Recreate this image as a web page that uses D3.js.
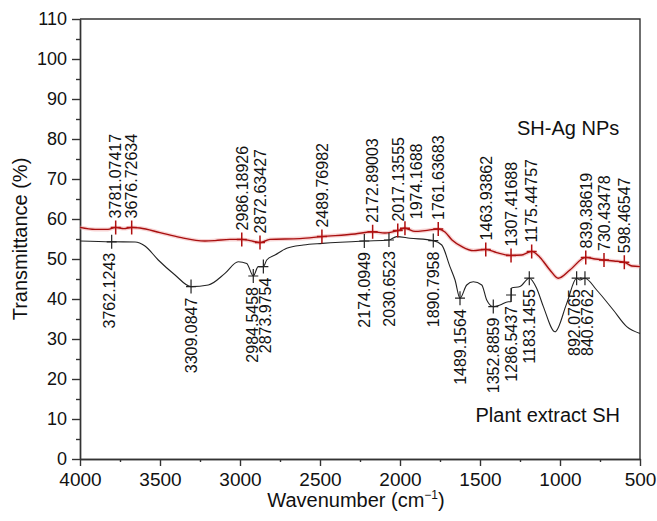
<!DOCTYPE html>
<meta charset="utf-8">
<title>FTIR spectra - SH-Ag NPs and plant extract SH</title>
<script src="https://d3js.org/d3.v7.min.js"></script>
<style>
  body { margin: 0; background: #fff; }
  svg text { font-family: "Liberation Sans", Arial, Helvetica, sans-serif; fill: #111; }
  .axis path, .axis line { stroke: #333; stroke-width: 1.4px; }
  .axis text { font-size: 18px; }
  .axis.xlab text { font-size: 19px; }
  .peak { font-size: 16px; }
  .title { font-size: 20px; }
  .series { font-size: 20px; }
</style>
<div id="chart"></div>
<script>
// red trace: SH-Ag NPs (wavenumber, transmittance %)
var agWave  = [4000, 3906, 3825, 3777, 3725, 3677, 3625, 3500, 3375, 3219, 3156, 3063, 2989, 2938, 2875, 2813, 2625, 2488, 2281, 2171, 2094, 2014, 1969, 1906, 1844, 1761, 1719, 1675, 1613, 1542, 1464, 1396, 1306, 1239, 1177, 1125, 1063, 1011, 938, 839, 781, 725, 663, 598, 550, 500];
var agTrans = [57.9, 57.4, 57.4, 57.9, 57.6, 57.9, 57.75, 56.6, 55.4, 54.5, 54.6, 54.9, 54.9, 54.6, 54.1, 54.9, 55.1, 55.6, 56.25, 56.8, 56.5, 57.1, 57.7, 56.9, 57.1, 57.5, 56.75, 54.75, 53.1, 52.1, 52.4, 51.6, 50.9, 51.0, 51.9, 50.4, 47.25, 45.2, 47.25, 50.4, 50.0, 49.75, 49.5, 49.2, 48.25, 48.1];

// black trace: plant extract SH
var shWave  = [4000, 3802, 3656, 3594, 3511, 3406, 3306, 3198, 3094, 3011, 2958, 2917, 2886, 2854, 2833, 2781, 2708, 2604, 2486, 2223, 2069, 2021, 1938, 1792, 1739, 1688, 1656, 1625, 1583, 1542, 1489, 1458, 1417, 1375, 1323, 1306, 1303, 1250, 1192, 1146, 1104, 1031, 958, 896, 875, 844, 771, 667, 583, 500];
var shTrans = [54.5, 54.3, 54.25, 53.25, 49.75, 46.0, 43.1, 43.5, 46.4, 49.3, 48.9, 45.75, 48.1, 48.1, 49.75, 51.0, 52.7, 53.5, 53.9, 54.5, 54.75, 55.6, 55.2, 54.6, 53.5, 48.1, 44.75, 40.2, 43.5, 44.3, 43.5, 39.75, 38.1, 38.5, 39.3, 39.3, 42.75, 43.1, 45.2, 42.7, 38.1, 31.8, 38.9, 45.2, 44.75, 45.2, 42.25, 37.25, 33.1, 31.4];

// peak picks on the red trace
var agPeakWave  = [3777, 3677, 2989, 2875, 2488, 2171, 2014, 1969, 1761, 1464, 1306, 1177, 839, 725, 598];
var agPeakTrans = [57.9, 57.9, 54.9, 54.1, 55.6, 56.8, 57.1, 57.7, 57.5, 52.4, 50.9, 51.9, 50.4, 49.75, 49.2];
var agPeakText  = ["3781.07417", "3676.72634", "2986.18926", "2872.63427", "2489.76982", "2172.89003", "2017.13555", "1974.1688", "1761.63683", "1463.93862", "1307.41688", "1175.44757", "839.38619", "730.43478", "598.46547"];

// peak picks on the black trace
var shPeakWave  = [3802, 3306, 2917, 2854, 2223, 2069, 1792, 1625, 1417, 1306, 1192, 896, 844];
var shPeakTrans = [54.3, 43.1, 45.75, 48.1, 54.5, 54.75, 54.6, 40.2, 38.1, 41.0, 45.2, 45.2, 45.2];
var shPeakText  = ["3762.1243", "3309.0847", "2984.5458", "2873.9754", "2174.0949", "2030.6523", "1890.7958", "1489.1564", "1352.8859", "1286.5437", "1183.1455", "892.0765", "840.6762"];

var xTicks = [4000, 3500, 3000, 2500, 2000, 1500, 1000, 500];
var xMinor = [3750, 3250, 2750, 2250, 1750, 1250, 750];
var yTicks = [0, 10, 20, 30, 40, 50, 60, 70, 80, 90, 100, 110];
var yMinor = [5, 15, 25, 35, 45, 55, 65, 75, 85, 95, 105];

var W = 657, H = 521;
var margin = {top: 19, right: 17, bottom: 62, left: 80},
    width = W - margin.left - margin.right,
    height = H - margin.top - margin.bottom;

var svg = d3.select("#chart").append("svg")
    .attr("width", W)
    .attr("height", H)
  .append("g")
    .attr("transform", "translate(" + margin.left + "," + margin.top + ")");

var x = d3.scaleLinear().domain([4000, 500]).range([0, width]);
var y = d3.scaleLinear().domain([0, 110]).range([height, 0]);

// frame (top + right)
svg.append("path")
    .attr("d", "M0,0H" + width + "V" + height)
    .attr("fill", "none")
    .attr("stroke", "#333")
    .attr("stroke-width", 1.4);

// minor ticks first, then the labelled axes
svg.append("g").attr("class", "axis")
    .attr("transform", "translate(0," + height + ")")
    .call(d3.axisBottom(x).tickValues(xMinor).tickSize(3).tickSizeOuter(0).tickFormat(""));
svg.append("g").attr("class", "axis")
    .call(d3.axisLeft(y).tickValues(yMinor).tickSize(4).tickSizeOuter(0).tickFormat(""));

svg.append("g").attr("class", "axis xlab")
    .attr("transform", "translate(0," + height + ")")
    .call(d3.axisBottom(x).tickValues(xTicks).tickSize(7).tickSizeOuter(0).tickPadding(7).tickFormat(d3.format("d")));
svg.append("g").attr("class", "axis")
    .call(d3.axisLeft(y).tickValues(yTicks).tickSize(8).tickSizeOuter(0).tickPadding(5).tickFormat(d3.format("d")));

var line = d3.line()
    .x(function(d) { return x(d[0]); })
    .y(function(d) { return y(d[1]); })
    .curve(d3.curveMonotoneX);

var agData = agWave.map(function(w, i) { return [w, agTrans[i]]; });
var shData = shWave.map(function(w, i) { return [w, shTrans[i]]; });

svg.append("path").datum(shData)
    .attr("d", line)
    .attr("fill", "none")
    .attr("stroke", "#222")
    .attr("stroke-width", 1.1);

// red trace has a soft pink halo in the scan
svg.append("path").datum(agData)
    .attr("d", line)
    .attr("fill", "none")
    .attr("stroke", "#f2a8a8")
    .attr("stroke-opacity", 0.5)
    .attr("stroke-width", 4);
svg.append("path").datum(agData)
    .attr("d", line)
    .attr("fill", "none")
    .attr("stroke", "#a80f0f")
    .attr("stroke-width", 1.4);

// small sideways shifts so neighbouring labels don't collide
var shift = {"1974.1688": 11, "2984.5458": -1, "2873.9754": 2, "892.0765": -2, "840.6762": 2, "3762.1243": -2};

function peaks(wave, trans, text, color, above) {
  var g = svg.append("g");
  wave.forEach(function(w, i) {
    var px = x(w), py = y(trans[i]);
    g.append("path")
        .attr("d", "M" + (px - 5) + "," + py + "H" + (px + 5) + "M" + px + "," + (py - 7) + "V" + (py + 7))
        .attr("stroke", color)
        .attr("stroke-width", above ? 1.5 : 1.2)
        .attr("fill", "none");
    var lx = px + (shift[text[i]] || 0);
    var ly = above ? py - 9 : py + 11;
    g.append("text")
        .attr("class", "peak")
        .attr("transform", "translate(" + lx + "," + ly + ") rotate(-90)")
        .attr("dy", "0.36em")
        .attr("text-anchor", above ? "start" : "end")
        .text(text[i]);
  });
}
peaks(shPeakWave, shPeakTrans, shPeakText, "#222", false);
peaks(agPeakWave, agPeakTrans, agPeakText, "#b01010", true);

svg.append("text")
    .attr("class", "series")
    .attr("x", 437)
    .attr("y", 116)
    .text("SH-Ag NPs");

svg.append("text")
    .attr("class", "series")
    .attr("x", 540)
    .attr("y", 403)
    .attr("text-anchor", "end")
    .text("Plant extract SH");

// axis titles
svg.append("text")
    .attr("class", "title")
    .attr("transform", "translate(-53," + (height / 2) + ") rotate(-90)")
    .attr("text-anchor", "middle")
    .text("Transmittance (%)");

var xt = svg.append("text")
    .attr("class", "title")
    .attr("x", width / 2 - 4)
    .attr("y", height + 48)
    .attr("text-anchor", "middle");
xt.append("tspan").text("Wavenumber (cm");
xt.append("tspan").attr("dy", -8).style("font-size", "12px").text("\u22121");
xt.append("tspan").attr("dy", 8).text(")");
</script>
